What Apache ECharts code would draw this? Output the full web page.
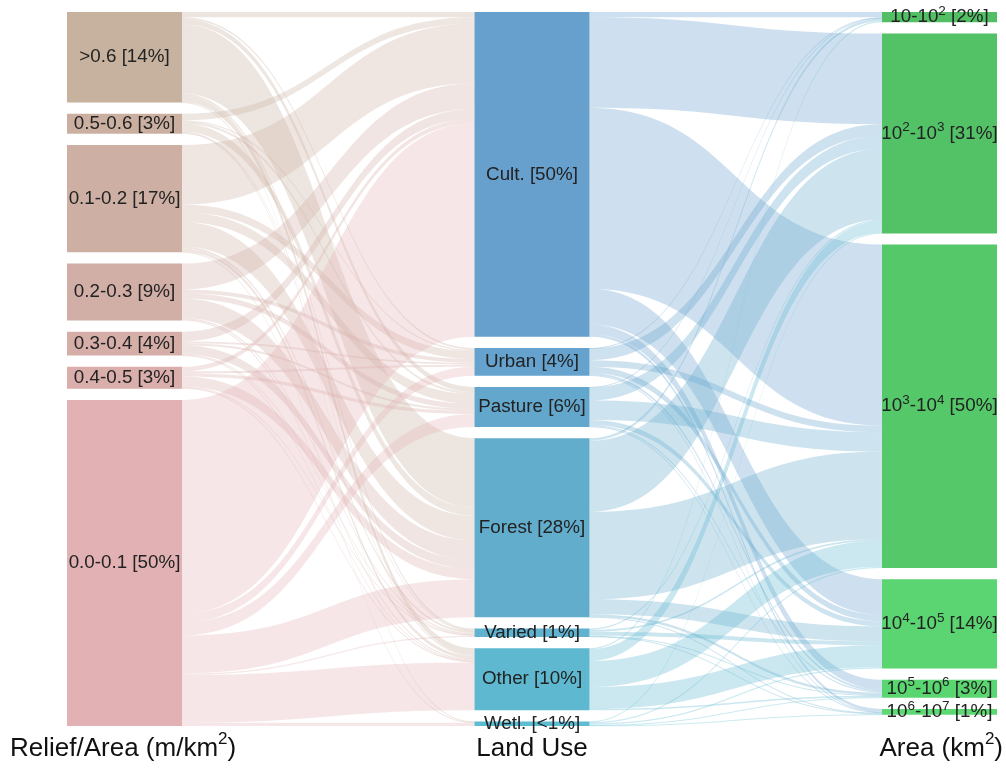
<!DOCTYPE html>
<html>
<head>
<meta charset="utf-8">
<script src="https://cdn.jsdelivr.net/npm/echarts@6/dist/echarts.min.js"></script>
<style>html,body{margin:0;padding:0;background:#fff}#c{width:1006px;height:771px}</style>
</head>
<body>
<div id="c"></div>
<script>
// ---- data ----
const reliefNames = ['>0.6', '0.5-0.6', '0.1-0.2', '0.2-0.3', '0.3-0.4', '0.4-0.5', '0.0-0.1'];
const reliefPct   = ['14%', '3%', '17%', '9%', '4%', '3%', '50%'];
const landNames   = ['Cult.', 'Urban', 'Pasture', 'Forest', 'Varied', 'Other', 'Wetl.'];
const landPct     = ['50%', '4%', '6%', '28%', '1%', '10%', '<1%'];
const areaNames   = ['10-10^2', '10^2-10^3', '10^3-10^4', '10^4-10^5', '10^5-10^6', '10^6-10^7'];
const areaPct     = ['2%', '31%', '50%', '14%', '3%', '1%'];
const columnTitles = ['Relief/Area (m/km^2)', 'Land Use', 'Area (km^2)'];

// flows (% of total), rows = relief classes, columns = land use classes
const reliefToLand = [
  [0.8, 0.3, 0.8, 10.7, 0.3, 1.0, 0.1],
  [1.0, 0.2, 0.3, 1.3, 0.1, 0.2, 0.0],
  [9.2, 1.2, 1.5, 3.8, 0.3, 0.5, 0.1],
  [4.0, 0.6, 0.8, 3.0, 0.2, 0.2, 0.0],
  [1.5, 0.3, 0.3, 1.4, 0.1, 0.1, 0.0],
  [0.7, 0.3, 0.5, 1.6, 0.1, 0.2, 0.0],
  [33.0, 1.4, 2.0, 5.9, 0.2, 7.4, 0.5]
];
// rows = land use classes, columns = area classes
const landToArea = [
  [0.8, 14.0, 28.0, 5.5, 1.5, 0.4],
  [0.1, 1.8, 1.0, 1.0, 0.3, 0.1],
  [0.1, 2.0, 3.0, 0.8, 0.2, 0.1],
  [0.4, 11.0, 13.5, 2.3, 0.4, 0.1],
  [0.0, 0.2, 0.3, 0.6, 0.1, 0.1],
  [0.2, 1.8, 4.0, 3.4, 0.2, 0.0],
  [0.0, 0.1, 0.2, 0.2, 0.1, 0.1]
];

// ---- styles ----
const reliefColors = ['#c6b29e', '#cbb0a1', '#cdafa3', '#d1aea6', '#d5aea8', '#d9aeab', '#e2b1b3'];
const landColors   = ['#679fcd', '#65a3ce', '#64a7cd', '#62accc', '#60b2ce', '#5eb8d0', '#5cbdd2'];
const areaColors   = ['#52bf65', '#53c267', '#55c86a', '#5bd571', '#5ad670', '#5cd973'];

function sup(s) { return s.replace(/\^(\d+)/g, '{sup|$1}'); }

const nodes = [];
reliefNames.forEach((n, i) => nodes.push({
  name: n, itemStyle: { color: reliefColors[i] },
  label: { formatter: sup(n) + ' [' + reliefPct[i] + ']' }
}));
landNames.forEach((n, i) => nodes.push({
  name: n, itemStyle: { color: landColors[i] },
  label: { formatter: sup(n) + ' [' + landPct[i] + ']' }
}));
areaNames.forEach((n, i) => nodes.push({
  name: n, itemStyle: { color: areaColors[i] },
  label: { formatter: sup(n) + ' [' + areaPct[i] + ']' }
}));

const links = [];
reliefToLand.forEach((row, i) => row.forEach((v, j) => {
  if (v > 0) links.push({ source: reliefNames[i], target: landNames[j], value: v });
}));
landToArea.forEach((row, i) => row.forEach((v, j) => {
  if (v > 0) links.push({ source: landNames[i], target: areaNames[j], value: v });
}));

const FONT = '"Liberation Sans", Arial, Helvetica, sans-serif';
const richSmall = { sup: { fontSize: 13.5, fontFamily: FONT, color: '#222', verticalAlign: 'top', lineHeight: 12 } };
const richBig = { sup: { fontSize: 17, fontFamily: FONT, color: '#111', verticalAlign: 'top', lineHeight: 16 } };

const chart = echarts.init(document.getElementById('c'));
chart.setOption({
  animation: false,
  backgroundColor: '#fff',
  series: [{
    type: 'sankey',
    left: 67, right: 9, top: 12, bottom: 45,
    nodeWidth: 115,
    nodeGap: 11.2,
    layoutIterations: 0,
    draggable: false,
    emphasis: { disabled: true },
    itemStyle: { borderWidth: 0 },
    lineStyle: { color: 'source', opacity: 0.32, curveness: 0.5 },
    label: {
      position: 'inside', color: '#222', fontSize: 18.8, fontFamily: FONT,
      lineHeight: 26, rich: richSmall
    },
    data: nodes,
    links: links
  }],
  graphic: [
    { type: 'text', x: 10, y: 749, style: { text: sup(columnTitles[0]), fill: '#111', font: '26px ' + FONT, lineHeight: 36, verticalAlign: 'middle', align: 'left', rich: richBig } },
    { type: 'text', x: 532, y: 749, style: { text: columnTitles[1], fill: '#111', font: '26px ' + FONT, verticalAlign: 'middle', align: 'center' } },
    { type: 'text', x: 1003, y: 749, style: { text: sup(columnTitles[2]), fill: '#111', font: '26px ' + FONT, lineHeight: 36, verticalAlign: 'middle', align: 'right', rich: richBig } }
  ]
});
</script>
</body>
</html>
